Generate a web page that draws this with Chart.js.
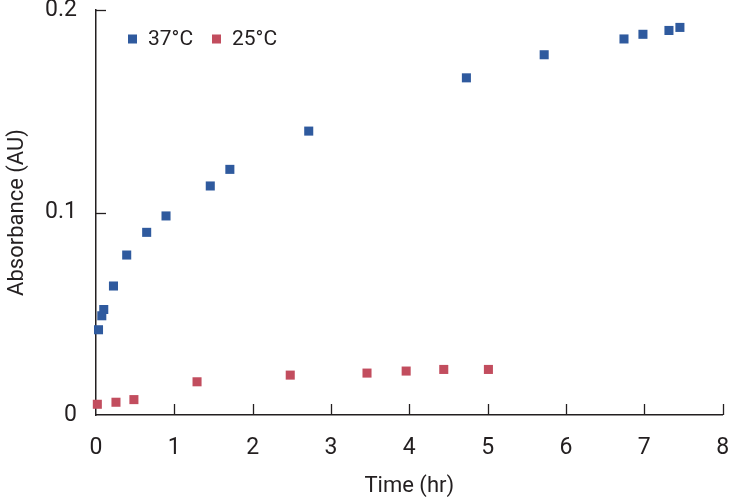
<!DOCTYPE html>
<html>
<head>
<meta charset="utf-8">
<script src="https://cdn.jsdelivr.net/npm/chart.js@4.4.1/dist/chart.umd.min.js"></script>
<style>
  html, body { margin: 0; padding: 0; background: #ffffff; }
  #wrap { width: 729px; height: 502px; position: relative; }
</style>
</head>
<body>
<div id="wrap"><canvas id="c" width="729" height="502"></canvas></div>
<script>
// ---- data ----
const seriesNames = ["37\u00B0C", "25\u00B0C"];
const time37 = [0.032, 0.074, 0.099, 0.223, 0.392, 0.647, 0.894, 1.459, 1.709, 2.716, 4.729, 5.722, 6.741, 6.983, 7.315, 7.455];
const abs37  = [0.0421, 0.0490, 0.0521, 0.0637, 0.0790, 0.0902, 0.0983, 0.1131, 0.1213, 0.1402, 0.1665, 0.1779, 0.1857, 0.1880, 0.1899, 0.1914];
const time25 = [0.017, 0.255, 0.484, 1.29, 2.48, 3.46, 3.96, 4.44, 5.01];
const abs25  = [0.0053, 0.0063, 0.0076, 0.0164, 0.0197, 0.0207, 0.0217, 0.0225, 0.0225];
const xTicks = [0, 1, 2, 3, 4, 5, 6, 7, 8];
const yTicks = [0, 0.1, 0.2];
const xTitle = "Time (hr)";
const yTitle = "Absorbance (AU)";

const FONT = "Roboto, 'Liberation Sans', sans-serif";
const BLUE = "#2F5A9E";
const RED = "#C24D5E";
const AXIS = "#231F20";

function pts(xs, ys) { return xs.map((x, i) => ({ x: x, y: ys[i] })); }

const innerTicks = {
  id: 'innerTicks',
  afterDatasetsDraw(chart) {
    const ctx = chart.ctx;
    const xs = chart.scales.x, ys = chart.scales.y;
    const area = chart.chartArea;
    ctx.save();
    ctx.strokeStyle = AXIS;
    ctx.lineWidth = 1.3;
    xTicks.forEach(v => {
      if (v === 0) return;
      const px = Math.round(xs.getPixelForValue(v)) + 0.5;
      ctx.beginPath();
      ctx.moveTo(px, area.bottom);
      ctx.lineTo(px, area.bottom - 11);
      ctx.stroke();
    });
    yTicks.forEach(v => {
      if (v === 0) return;
      const py = Math.round(ys.getPixelForValue(v)) + 0.5;
      ctx.beginPath();
      ctx.moveTo(area.left, py);
      ctx.lineTo(area.left + 10, py);
      ctx.stroke();
    });
    ctx.restore();
  }
};

const customLegend = {
  id: 'customLegend',
  afterDraw(chart) {
    const ctx = chart.ctx;
    const area = chart.chartArea;
    ctx.save();
    ctx.font = "21px " + FONT;
    ctx.textBaseline = 'middle';
    ctx.textAlign = 'left';
    let x = area.left + 32;
    const y = area.top + 29;
    chart.data.datasets.forEach(ds => {
      ctx.fillStyle = ds.backgroundColor;
      ctx.fillRect(x, y - 4.5, 9, 9);
      ctx.fillStyle = "#231F20";
      ctx.fillText(ds.label, x + 20, y + 1);
      x += 84;
    });
    ctx.restore();
  }
};

function noPad(s) { s.paddingTop = 0; s.paddingBottom = 0; s.paddingLeft = 0; s.paddingRight = 0; }

new Chart(document.getElementById('c'), {
  type: 'scatter',
  data: {
    datasets: [
      { label: seriesNames[0], data: pts(time37, abs37), backgroundColor: BLUE, borderColor: BLUE,
        pointStyle: 'rect', pointRadius: 6.4, pointHoverRadius: 6.4, borderWidth: 0, clip: false },
      { label: seriesNames[1], data: pts(time25, abs25), backgroundColor: RED, borderColor: RED,
        pointStyle: 'rect', pointRadius: 6.4, pointHoverRadius: 6.4, borderWidth: 0, clip: false }
    ]
  },
  options: {
    responsive: false,
    animation: false,
    devicePixelRatio: 1,
    layout: { padding: { top: 10, right: 4, left: 0, bottom: 0 } },
    plugins: { legend: { display: false }, tooltip: { enabled: false } },
    scales: {
      x: {
        type: 'linear', min: 0, max: 8,
        afterBuildTicks: s => { s.ticks = xTicks.map(v => ({ value: v })); },
        afterFit: s => { s.height = 87; noPad(s); },
        grid: { display: false, drawTicks: false },
        border: { display: true, color: AXIS, width: 1.5 },
        ticks: { color: "#231F20", font: { family: FONT, size: 23 }, padding: 19, maxRotation: 0,
                 callback: v => String(v) },
        title: { display: true, text: xTitle, color: "#231F20", font: { family: FONT, size: 22 },
                 padding: { top: 0, bottom: 2 } }
      },
      y: {
        type: 'linear', min: 0, max: 0.2,
        afterBuildTicks: s => { s.ticks = yTicks.map(v => ({ value: v })); },
        afterFit: s => { s.width = 96; noPad(s); },
        grid: { display: false, drawTicks: false },
        border: { display: true, color: AXIS, width: 1.5 },
        ticks: { color: "#231F20", font: { family: FONT, size: 23 }, padding: 19,
                 callback: v => String(v) },
        title: { display: true, text: yTitle, color: "#231F20", font: { family: FONT, size: 22 },
                 padding: { top: 4, bottom: 0 } }
      }
    }
  },
  plugins: [innerTicks, customLegend]
});
</script>
</body>
</html>
